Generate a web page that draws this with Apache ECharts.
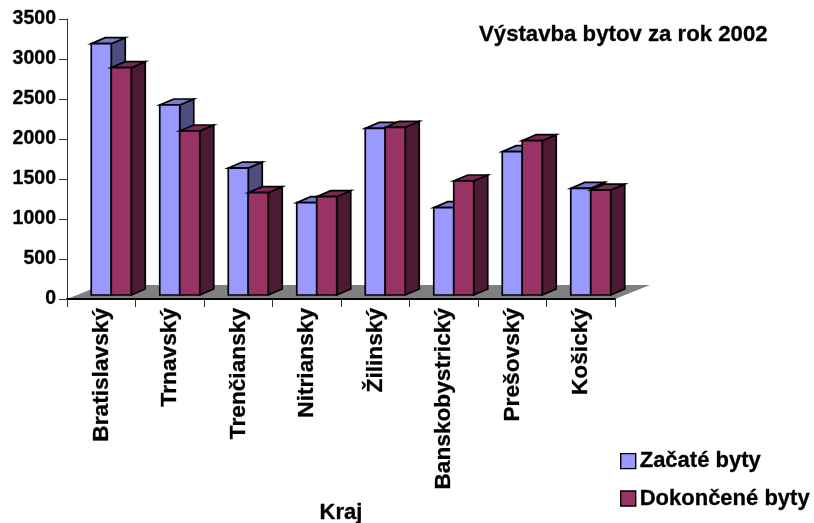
<!DOCTYPE html>
<html>
<head>
<meta charset="utf-8">
<style>html,body{margin:0;padding:0;background:#fff}#c{width:814px;height:523px}</style>
<script src="https://cdn.jsdelivr.net/npm/echarts@6/dist/echarts.min.js"></script>
</head>
<body>
<div id="c"></div>
<script>
const categories = ['Bratislavský','Trnavský','Trenčiansky','Nitriansky','Žilinský','Banskobystrický','Prešovský','Košický'];
const zacate = [3141,2375,1587,1154,2083,1091,1791,1333];
const dokoncene = [2841,2050,1279,1229,2096,1425,1929,1312];
const yTicks = {min:0,max:3500,interval:500};
const seriesNames = ['Začaté byty','Dokončené byty'];
const titleText = 'Výstavba bytov za rok 2002';
const axisName = 'Kraj';

const FONT = '"Liberation Sans", Arial, sans-serif';
const TXT = {fontFamily:FONT,fontWeight:'bold',color:'#000',textBorderColor:'#000',textBorderWidth:0.3};
const shift = [10,-4], depth = [14,-6], floorDepth = [35,-14], barW = 20;

function barRenderer(slot, front, top, side){
  return function(params, api){
    const c = api.coord([api.value(0), api.value(1)]);
    const b = api.coord([api.value(0), 0]);
    const x0 = c[0] + shift[0] + (slot-1)*barW;
    const x1 = x0 + barW;
    const yt = c[1] + shift[1], yb = b[1] + shift[1];
    const s = {stroke:'#000', lineWidth:1.7, lineJoin:'miter'};
    const poly = (pts, fill) => ({type:'polygon', shape:{points:pts}, style:Object.assign({fill}, s)});
    return {type:'group', children:[
      poly([[x1,yb],[x1+depth[0],yb+depth[1]],[x1+depth[0],yt+depth[1]],[x1,yt]], side),
      poly([[x0,yt],[x1,yt],[x1+depth[0],yt+depth[1]],[x0+depth[0],yt+depth[1]]], top),
      poly([[x0,yb],[x1,yb],[x1,yt],[x0,yt]], front)
    ]};
  };
}
function floorRenderer(params, api){
  const band = api.size([1,0])[0];
  const a = api.coord([0,0]), z = api.coord([categories.length-1,0]);
  const l = a[0]-band/2, r = z[0]+band/2, y = a[1];
  return {type:'polygon', shape:{points:[[l,y],[r,y],[r+floorDepth[0],y+floorDepth[1]],[l+floorDepth[0],y+floorDepth[1]]]},
    style:{fill:'#808080'}};
}
const chart = echarts.init(document.getElementById('c'), null, {renderer:'canvas'});
chart.setOption({
  animation:false,
  backgroundColor:'#fff',
  title:{text:titleText,left:474,top:19,textStyle:Object.assign({fontSize:22.2},TXT)},
  legend:{
    orient:'vertical',left:615,top:445,itemWidth:15,itemHeight:15,itemGap:15,
    data:seriesNames,icon:'rect',selectedMode:false,
    itemStyle:{borderColor:'#000',borderWidth:1.4},
    textStyle:Object.assign({fontSize:22,padding:[0,0,0,-1]},TXT)
  },
  grid:{left:67,top:19,width:548,height:280,outerBoundsMode:'none'},
  xAxis:{
    type:'category',data:categories,z:5,
    name:axisName,nameLocation:'middle',nameGap:203,
    nameTextStyle:Object.assign({fontSize:22},TXT),
    axisLine:{lineStyle:{color:'#000',width:2}},
    axisTick:{show:true,length:8,alignWithLabel:false,lineStyle:{color:'#333',width:1}},
    axisLabel:Object.assign({rotate:90,interval:0,margin:9,fontSize:22.7},TXT),
    splitLine:{show:false}
  },
  yAxis:{
    type:'value',min:yTicks.min,max:yTicks.max,interval:yTicks.interval,z:5,
    axisLine:{show:true,lineStyle:{color:'#333',width:1}},
    axisTick:{show:true,length:8,lineStyle:{color:'#333',width:1}},
    axisLabel:Object.assign({margin:11,fontSize:19.5,padding:[3,0,0,0],formatter:(v)=>String(v)},TXT),
    splitLine:{show:false}
  },
  series:[
    {type:'custom',name:'floor',silent:true,clip:false,z:1,renderItem:floorRenderer,data:[[0,0]],encode:{x:0,y:1}},
    {type:'custom',name:seriesNames[0],clip:false,z:2,itemStyle:{color:'#9999FF'},
      renderItem:barRenderer(0,'#9999FF','#7A7ACC','#4D4D80'),
      data:zacate.map((v,i)=>[i,v]),encode:{x:0,y:1}},
    {type:'custom',name:seriesNames[1],clip:false,z:3,itemStyle:{color:'#993366'},
      renderItem:barRenderer(1,'#993366','#7A2952','#4D1A33'),
      data:dokoncene.map((v,i)=>[i,v]),encode:{x:0,y:1}}
  ]
});
</script>
</body>
</html>
